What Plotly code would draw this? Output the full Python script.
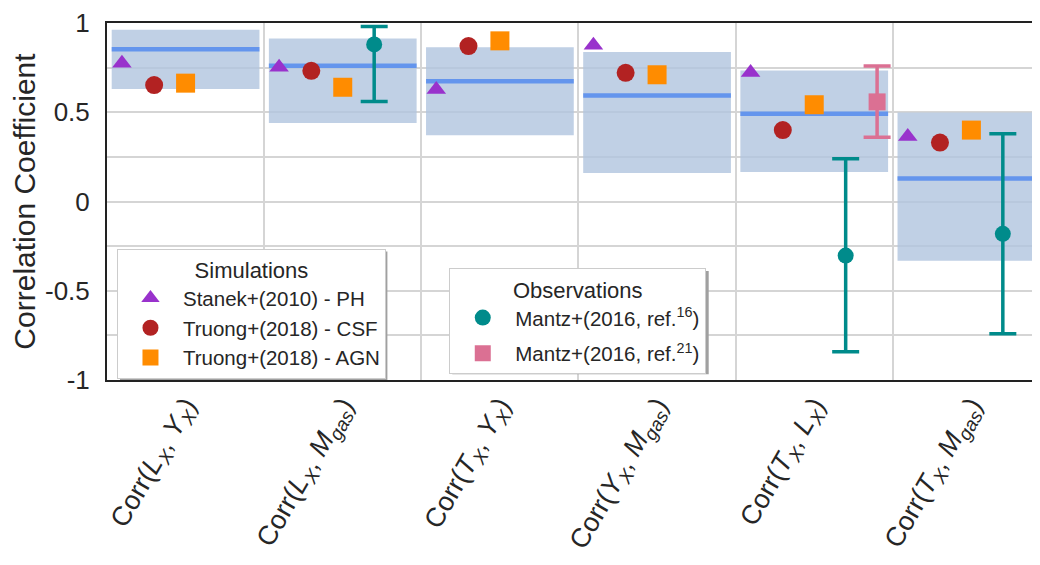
import plotly.graph_objects as go

FONT = "Liberation Sans, Arial, sans-serif"
TEXT = "#262626"

categories = [
    "Corr(<i>L</i><sub><i>X</i></sub>, <i>Y</i><sub><i>X</i></sub>)",
    "Corr(<i>L</i><sub><i>X</i></sub>, <i>M</i><sub><i>gas</i></sub>)",
    "Corr(<i>T</i><sub><i>X</i></sub>, <i>Y</i><sub><i>X</i></sub>)",
    "Corr(<i>Y</i><sub><i>X</i></sub>, <i>M</i><sub><i>gas</i></sub>)",
    "Corr(<i>T</i><sub><i>X</i></sub>, <i>L</i><sub><i>X</i></sub>)",
    "Corr(<i>T</i><sub><i>X</i></sub>, <i>M</i><sub><i>gas</i></sub>)",
]

# shaded band: mean and range per correlation
band_mean = [0.853, 0.761, 0.674, 0.594, 0.491, 0.129]
band_hi = [0.962, 0.913, 0.864, 0.837, 0.734, 0.498]
band_lo = [0.630, 0.440, 0.371, 0.159, 0.165, -0.332]

# simulations
stanek_ph = [0.775, 0.752, 0.627, 0.875, 0.723, 0.364]
truong_csf = [0.652, 0.732, 0.871, 0.721, 0.400, 0.330]
truong_agn = [0.663, 0.640, 0.900, 0.710, 0.542, 0.400]

# observations
mantz16_idx = [1, 4, 5]
mantz16_val = [0.880, -0.303, -0.181]
mantz16_hi = [0.980, 0.239, 0.380]
mantz16_lo = [0.560, -0.842, -0.741]

mantz21_idx = [4]
mantz21_val = [0.558]
mantz21_hi = [0.759]
mantz21_lo = [0.360]

n = len(categories)
centers = [i + 0.5 for i in range(n)]

fig = go.Figure()

for i in range(n):
    fig.add_shape(
        type="rect", xref="x", yref="y",
        x0=i + 0.03, x1=i + 0.97, y0=band_lo[i], y1=band_hi[i],
        fillcolor="rgba(176,196,222,0.8)", line_width=0, layer="between",
    )
    fig.add_trace(go.Scatter(
        x=[i + 0.03, i + 0.97], y=[band_mean[i], band_mean[i]], mode="lines",
        line=dict(color="#6495ED", width=4.5), showlegend=False, hoverinfo="skip",
    ))


def sim_trace(values, offset, name, symbol, color, size):
    return go.Scatter(
        x=[i + offset for i in range(n)], y=values, mode="markers", name=name,
        marker=dict(symbol=symbol, color=color, size=size, line_width=0),
        legend="legend",
    )


fig.add_trace(sim_trace(stanek_ph, 0.095, "Stanek+(2010) - PH", "triangle-up", "#9932CC", 17))
fig.add_trace(sim_trace(truong_csf, 0.30, "Truong+(2018) - CSF", "circle", "#B22222", 18))
fig.add_trace(sim_trace(truong_agn, 0.50, "Truong+(2018) - AGN", "square", "#FF8C00", 19))


def obs_trace(idx, vals, hi, lo, offset, name, symbol, color, size, group):
    return go.Scatter(
        x=[i + offset for i in idx], y=vals, mode="markers", name=name,
        marker=dict(symbol=symbol, color=color, size=size, line_width=0),
        error_y=dict(
            type="data", symmetric=False,
            array=[h - v for h, v in zip(hi, vals)],
            arrayminus=[v - l for l, v in zip(lo, vals)],
            color=color, thickness=3.5, width=13.5,
        ),
        legend="legend2", legendgroup=group,
    )


fig.add_trace(obs_trace(mantz16_idx, mantz16_val, mantz16_hi, mantz16_lo, 0.70,
                        "Mantz+(2016, ref.<sup>16</sup>)", "circle", "#008B8B", 16, "m16"))
fig.add_trace(obs_trace(mantz21_idx, mantz21_val, mantz21_hi, mantz21_lo, 0.90,
                        "Mantz+(2016, ref.<sup>21</sup>)", "square", "#DB7093", 17, "m21"))

GRID = "#d5d5d5"
legend_common = dict(
    bgcolor="white", bordercolor="#cccccc", borderwidth=1,
    font=dict(family=FONT, size=20.5, color=TEXT),
    xanchor="left", yanchor="top", itemsizing="trace", itemwidth=55,
)


# the page body adds an 8px offset, so screen px are mapped through the plot box
def px2paper(px, py):
    return (px - 105) / 935, (380 - py) / 367


for (x0, y0, x1, y1) in [(118, 248, 386, 380), (451, 268, 708, 374)]:
    a, b = px2paper(x0, y0)
    c, d = px2paper(x1, y1)
    fig.add_shape(type="rect", xref="paper", yref="paper", x0=a, y0=b, x1=c, y1=d,
                  fillcolor="#a0a0a0", line_width=0, layer="above")

lx1, ly1 = px2paper(115, 245)
lx2, ly2 = px2paper(448, 265)

fig.update_layout(
    width=1032, height=557,
    margin=dict(l=97, r=0, t=5, b=185, pad=0),
    paper_bgcolor="white", plot_bgcolor="white",
    font=dict(family=FONT, color=TEXT),
    legend=dict(x=lx1, y=ly1, title=dict(text="Simulations", side="top center",
                                         font=dict(family=FONT, size=22, color=TEXT)),
                **legend_common),
    legend2=dict(x=lx2, y=ly2, title=dict(text="Observations", side="top center",
                                          font=dict(family=FONT, size=22, color=TEXT)),
                 tracegroupgap=6, **legend_common),
    xaxis=dict(
        range=[0, 935 / 157.5], tickvals=centers, ticktext=categories,
        tickangle=-60, tickfont=dict(family=FONT, size=27, color=TEXT),
        showgrid=False, zeroline=False, ticks="",
        showline=True, linecolor="#222222", linewidth=2, mirror=True,
        minor=dict(tickvals=list(range(1, n)), showgrid=True, gridcolor=GRID, gridwidth=1.5),
        ticklabelstandoff=-3,
    ),
    yaxis=dict(
        range=[-1, 1], tickvals=[-1, -0.5, 0, 0.5, 1], ticktext=["-1", "-0.5", "0", "0.5", "1"],
        tickfont=dict(family=FONT, size=26, color=TEXT), ticklabeloverflow="allow",
        showgrid=True, gridcolor=GRID, gridwidth=1.5, zeroline=False, ticks="",
        minor=dict(dtick=0.25, showgrid=True, gridcolor=GRID, gridwidth=1.5),
        showline=True, linecolor="#222222", linewidth=2, mirror=False,
        title=dict(text="Correlation Coefficient", font=dict(family=FONT, size=30, color=TEXT), standoff=16),
        ticklabelstandoff=10,
    ),
)

fig.write_html("out.html")
